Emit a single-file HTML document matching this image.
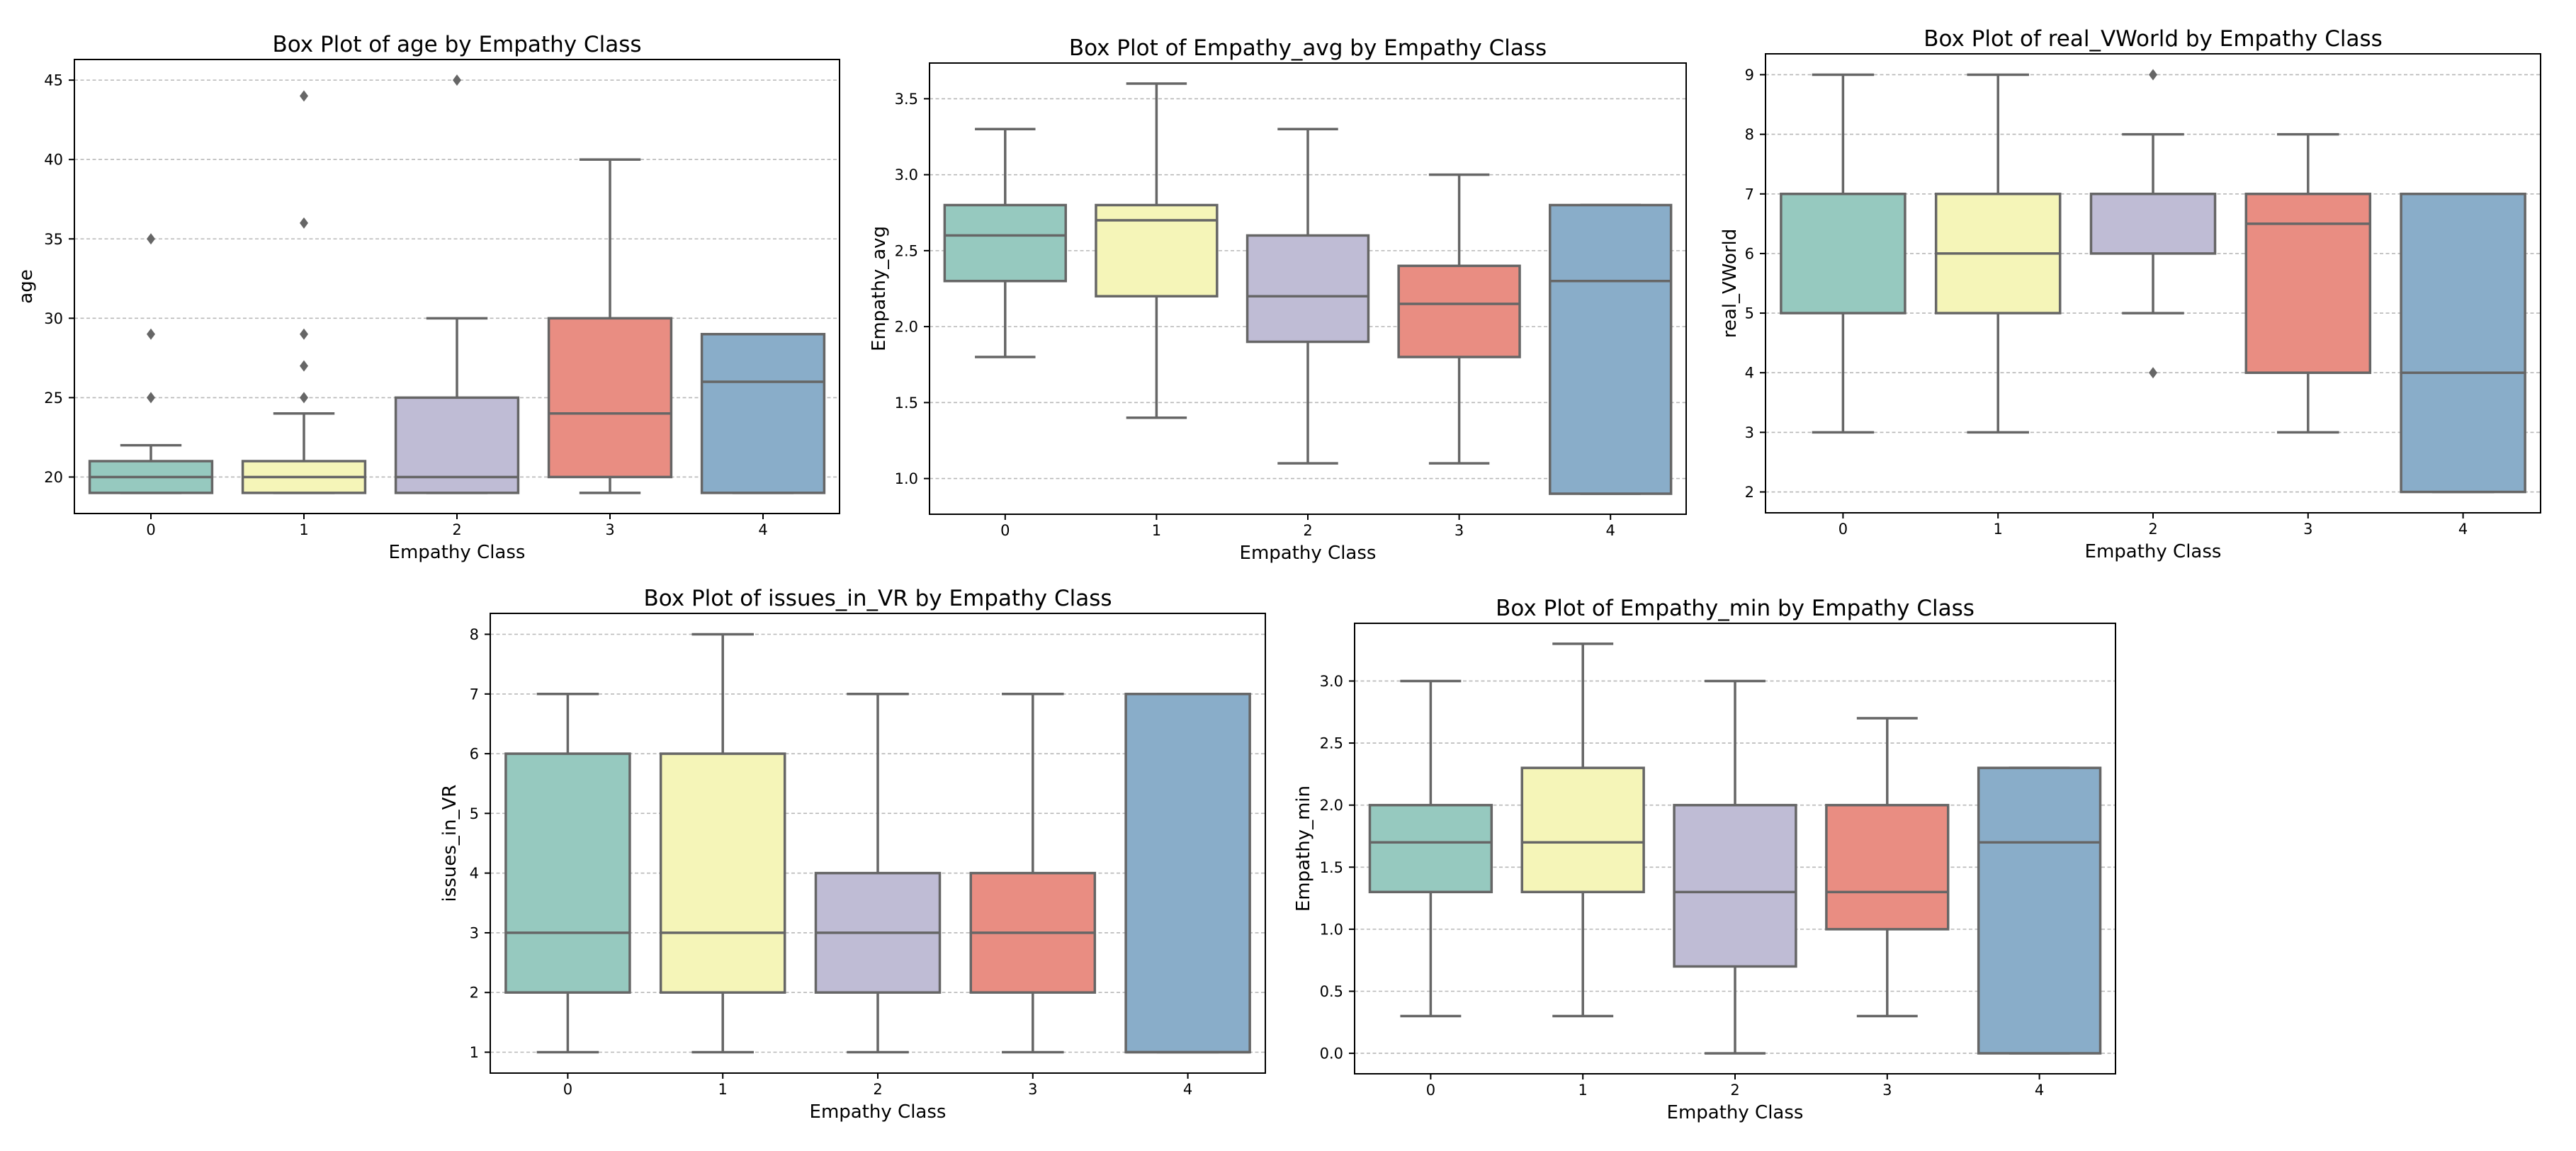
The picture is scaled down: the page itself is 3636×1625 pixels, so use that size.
<!DOCTYPE html>
<html><head><meta charset="utf-8"><style>
html,body{margin:0;padding:0;background:#fff;}
svg{display:block;font-family:"DejaVu Sans","Liberation Sans",sans-serif;}
</style></head><body>
<svg id="fig" width="3636" height="1625" viewBox="0 0 3636 1625" xmlns="http://www.w3.org/2000/svg"></svg>
<script>
// ---- data ----
const categories = ["0","1","2","3","4"];
const colors = ["#96c9bf","#f5f5b8","#bfbcd5","#e98d82","#89adc9"];

const ageQ1 = [19,19,19,20,19];
const ageMed = [20,20,20,24,26];
const ageQ3 = [21,21,25,30,29];
const ageLo = [19,19,19,19,19];
const ageHi = [22,24,30,40,29];
const ageOut = [[25,29,35],[25,27,29,36,44],[45],[],[]];
const ageTicks = [20,25,30,35,40,45];

const avgQ1 = [2.3,2.2,1.9,1.8,0.9];
const avgMed = [2.6,2.7,2.2,2.15,2.3];
const avgQ3 = [2.8,2.8,2.6,2.4,2.8];
const avgLo = [1.8,1.4,1.1,1.1,0.9];
const avgHi = [3.3,3.6,3.3,3.0,2.8];
const avgOut = [[],[],[],[],[]];
const avgTicks = [1.0,1.5,2.0,2.5,3.0,3.5];

const rwQ1 = [5,5,6,4,2];
const rwMed = [7,6,7,6.5,4];
const rwQ3 = [7,7,7,7,7];
const rwLo = [3,3,5,3,2];
const rwHi = [9,9,8,8,7];
const rwOut = [[],[],[9,4],[],[]];
const rwTicks = [2,3,4,5,6,7,8,9];

const vrQ1 = [2,2,2,2,1];
const vrMed = [3,3,3,3,1];
const vrQ3 = [6,6,4,4,7];
const vrLo = [1,1,1,1,1];
const vrHi = [7,8,7,7,7];
const vrOut = [[],[],[],[],[]];
const vrTicks = [1,2,3,4,5,6,7,8];

const minQ1 = [1.3,1.3,0.7,1.0,0.0];
const minMed = [1.7,1.7,1.3,1.3,1.7];
const minQ3 = [2.0,2.3,2.0,2.0,2.3];
const minLo = [0.3,0.3,0.0,0.3,0.0];
const minHi = [3.0,3.3,3.0,2.7,2.3];
const minOut = [[],[],[],[],[]];
const minTicks = [0.0,0.5,1.0,1.5,2.0,2.5,3.0];

const NS = "http://www.w3.org/2000/svg";
const fig = document.getElementById('fig');
function mk(tag, attrs, parent){
  const e = document.createElementNS(NS, tag);
  for (const k in attrs) e.setAttribute(k, attrs[k]);
  (parent||fig).appendChild(e);
  return e;
}

function panel(o){
  const g = mk('g', {});
  
  
  const all = [].concat(o.lo, o.hi, ...o.out);
  const dmin = Math.min(...all), dmax = Math.max(...all);
  const pad = (dmax - dmin) * 0.05;
  const y0 = dmin - pad, y1 = dmax + pad;
  const L = o.L, R = o.R, T = o.T, B = o.B;
  const ys = v => B - (v - y0) / (y1 - y0) * (B - T);
  const bw = (R - L) / categories.length;
  const xs = i => L + bw * (i + 0.5);
  const lw = 3.5, gray = "#666666";

  o.ticks.forEach((t) => {
    const y = ys(t);
    const gl = mk('line', {x1:L, x2:R, y1:y, y2:y, stroke:"#b8b8b8", 'stroke-width':1.6, 'stroke-dasharray':"5,3.5"}, g);
    
    
    mk('line', {x1:L-8, x2:L, y1:y, y2:y, stroke:"#000", 'stroke-width':2}, g);
    const tl = mk('text', {x:L-16, y:y+7.5, 'text-anchor':'end', 'font-size':21, fill:'#000'}, g);
    tl.textContent = o.fmt(t);
    
    
  });

  categories.forEach((c, i) => {
    const cx = xs(i), hw = bw * 0.4, cw = bw * 0.2;
    const bx = mk('g', {}, g);
    
    
    mk('line', {x1:cx, x2:cx, y1:ys(o.q3[i]), y2:ys(o.hi[i]), stroke:gray, 'stroke-width':lw}, bx);
    mk('line', {x1:cx, x2:cx, y1:ys(o.q1[i]), y2:ys(o.lo[i]), stroke:gray, 'stroke-width':lw}, bx);
    mk('line', {x1:cx-cw, x2:cx+cw, y1:ys(o.hi[i]), y2:ys(o.hi[i]), stroke:gray, 'stroke-width':lw}, bx);
    mk('line', {x1:cx-cw, x2:cx+cw, y1:ys(o.lo[i]), y2:ys(o.lo[i]), stroke:gray, 'stroke-width':lw}, bx);
    const top = ys(o.q3[i]), bot = ys(o.q1[i]);
    mk('rect', {x:cx-hw, y:top, width:2*hw, height:Math.max(bot-top,0.5), fill:colors[i], stroke:gray, 'stroke-width':lw}, bx);
    mk('line', {x1:cx-hw, x2:cx+hw, y1:ys(o.med[i]), y2:ys(o.med[i]), stroke:gray, 'stroke-width':lw}, bx);
    o.out[i].forEach(v => {
      const y = ys(v);
      const d = mk('path', {d:`M${cx},${y-8} L${cx+6},${y} L${cx},${y+8} L${cx-6},${y} Z`, fill:gray}, bx);
      
      
    });
    mk('line', {x1:cx, x2:cx, y1:B, y2:B+8, stroke:"#000", 'stroke-width':2}, g);
    const xl = mk('text', {x:cx, y:B+30, 'text-anchor':'middle', 'font-size':21, fill:'#000'}, g);
    xl.textContent = c;
    
    
  });

  const fr = mk('rect', {x:L, y:T, width:R-L, height:B-T, fill:'none', stroke:'#000', 'stroke-width':2}, g);
  
  

  const ti = mk('text', {x:(L+R)/2, y:T-11, 'text-anchor':'middle', 'font-size':31, fill:'#000'}, g);
  ti.textContent = 'Box Plot of ' + o.key + ' by Empathy Class';
  
  

  const xt = mk('text', {x:(L+R)/2, y:B+63, 'text-anchor':'middle', 'font-size':26, fill:'#000'}, g);
  xt.textContent = 'Empathy Class';
  
  

  const yc = (T+B)/2;
  const yt = mk('text', {x:o.yl, y:yc, 'text-anchor':'middle', 'font-size':26, fill:'#000', transform:`rotate(-90 ${o.yl} ${yc})`}, g);
  yt.textContent = o.key;
  
  
}

const f0 = v => String(v), f1 = v => v.toFixed(1);
panel({key:'age', L:105, R:1185, T:84, B:725, yl:45, q1:ageQ1, med:ageMed, q3:ageQ3, lo:ageLo, hi:ageHi, out:ageOut, ticks:ageTicks, fmt:f0});
panel({key:'Empathy_avg', L:1312, R:2380, T:89, B:726, yl:1249, q1:avgQ1, med:avgMed, q3:avgQ3, lo:avgLo, hi:avgHi, out:avgOut, ticks:avgTicks, fmt:f1});
panel({key:'real_VWorld', L:2492, R:3586, T:76, B:724, yl:2450, q1:rwQ1, med:rwMed, q3:rwQ3, lo:rwLo, hi:rwHi, out:rwOut, ticks:rwTicks, fmt:f0});
panel({key:'issues_in_VR', L:692, R:1786, T:866, B:1515, yl:643, q1:vrQ1, med:vrMed, q3:vrQ3, lo:vrLo, hi:vrHi, out:vrOut, ticks:vrTicks, fmt:f0});
panel({key:'Empathy_min', L:1912, R:2986, T:880, B:1516, yl:1848, q1:minQ1, med:minMed, q3:minQ3, lo:minLo, hi:minHi, out:minOut, ticks:minTicks, fmt:f1});
</script>
</body></html>
